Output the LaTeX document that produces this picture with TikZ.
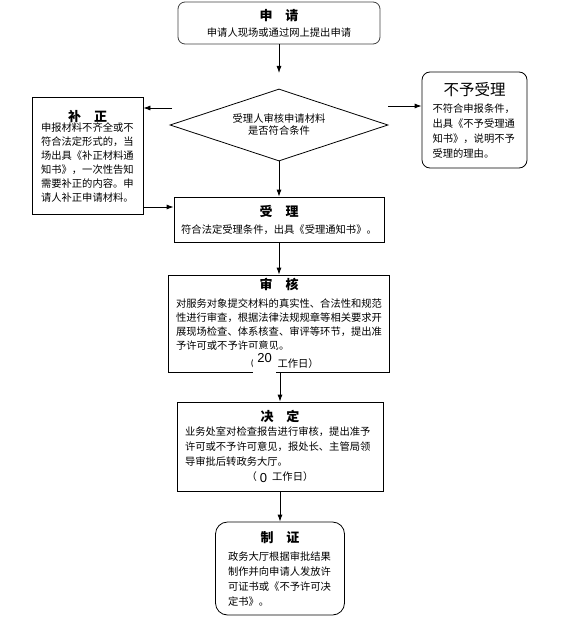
\documentclass[tikz,border=0pt]{standalone}
\usepackage{fontspec}
\setmainfont{Noto Sans CJK SC}
\newfontfamily\numfont{Liberation Sans}
\usetikzlibrary{shapes.geometric,arrows.meta}

\newcommand{\midline}[1]{\makebox[\hsize][c]{#1}}
\newcommand{\boxtitle}[1]{{\fontsize{13}{14}\selectfont\bfseries #1}}

\begin{document}
\begin{tikzpicture}[x=1pt,y=-1pt,line width=0.8pt,
    font=\fontsize{10.3}{14}\selectfont]

        \useasboundingbox (0,0) rectangle (570,623);

        \begin{scope}[every node/.style={draw, inner sep=0pt, align=left}]
          \node[rounded corners=7pt, draw=black!75, align=center, text width=150pt,
                minimum width=202pt, minimum height=42pt] (apply) at (279,23)
                {\boxtitle{申\quad 请}\\[2pt]申请人现场或通过网上提出申请};
          \node[diamond, aspect=3, align=center,
                minimum width=218pt, minimum height=72pt] (check) at (279,125)
                {受理人审核申请材料\\[-2pt]是否符合条件};
          \node[text width=93pt, minimum width=111pt, minimum height=117pt] (fix) at (87.5,156)
                {\midline{\boxtitle{补\quad 正}}\\[-4pt]
                 申报材料不齐全或不\\符合法定形式的，当\\场出具《补正材料通\\
                 知书》，一次性告知\\需要补正的内容。申\\请人补正申请材料。};
          \node[rounded corners=8pt, text width=84pt, font=\fontsize{10.3}{15}\selectfont,
                minimum width=105pt, minimum height=96pt] (refuse) at (474.5,120)
                {\midline{{\fontsize{15.5}{16}\selectfont 不予受理}}\\[2pt]
                 不符合申报条件，\\出具《不予受理通\\知书》，说明不予\\受理的理由。};
          \node[align=center, text width=200pt,
                minimum width=210pt, minimum height=45pt] (accept) at (279,219.5)
                {\boxtitle{受\quad 理}\\[3pt]符合法定受理条件，出具《受理通知书》。};
          \node[text width=206pt, minimum width=221pt, minimum height=97pt] (review) at (279,323.5)
                {\midline{\boxtitle{审\quad 核}}\\[4pt]
                 对服务对象提交材料的真实性、合法性和规范\\
                 性进行审查，根据法律法规规章等相关要求开\\
                 展现场检查、体系核查、审评等环节，提出准\\
                 予许可或不予许可意见。\\[4pt]
                 \midline{\hspace{5pt}（\hspace{23pt}工作日）}};
          \node[text width=190pt, font=\fontsize{10.3}{15}\selectfont,
                minimum width=206pt, minimum height=89pt] (decide) at (280,446.5)
                {\midline{\boxtitle{决\quad 定}}\\[-1pt]
                 业务处室对检查报告进行审核，提出准予\\
                 许可或不予许可意见，报处长、主管局领\\
                 导审批后转政务大厅。\\
                 \midline{（\hspace{3pt}\raisebox{-2pt}{\numfont\fontsize{13}{13}\selectfont 0}\hspace{5pt}工作日）}};
          \node[rounded corners=12pt, text width=104pt, font=\fontsize{10.3}{15}\selectfont,
                minimum width=129pt, minimum height=93pt] (issue) at (280,568.5)
                {\midline{\boxtitle{制\quad 证}}\\[3pt]
                 政务大厅根据审批结果\\制作并向申请人发放许\\可证书或《不予许可决\\定书》。};
        \end{scope}

        \node[fill=white, inner sep=0pt, minimum width=23pt, text height=13pt, text depth=15pt,
              anchor=base, font=\numfont\fontsize{13}{13}\selectfont] (days) at (264.5,362) {20};

        \coordinate (checkin) at (279,73);
        \coordinate (fixin)   at (172,108);
        \coordinate (refin)   at (388,106);
        \coordinate (fixout)  at (143,207);

        \begin{scope}[every edge/.style={draw, -{Latex[length=7pt,width=5pt]}, line width=0.8pt}]
          \path (apply)  edge (checkin);
          \path (check)  edge (accept);
          \path (fixin)  edge (fixin -| fix.east);
          \path (refin)  edge (refin -| refuse.west);
          \path (fixout) edge (fixout -| accept.west);
          \path (accept) edge (review);
          \path (review.south -| decide) edge (decide);
          \path (decide) edge (issue);
        \end{scope}

\end{tikzpicture}
\end{document}
